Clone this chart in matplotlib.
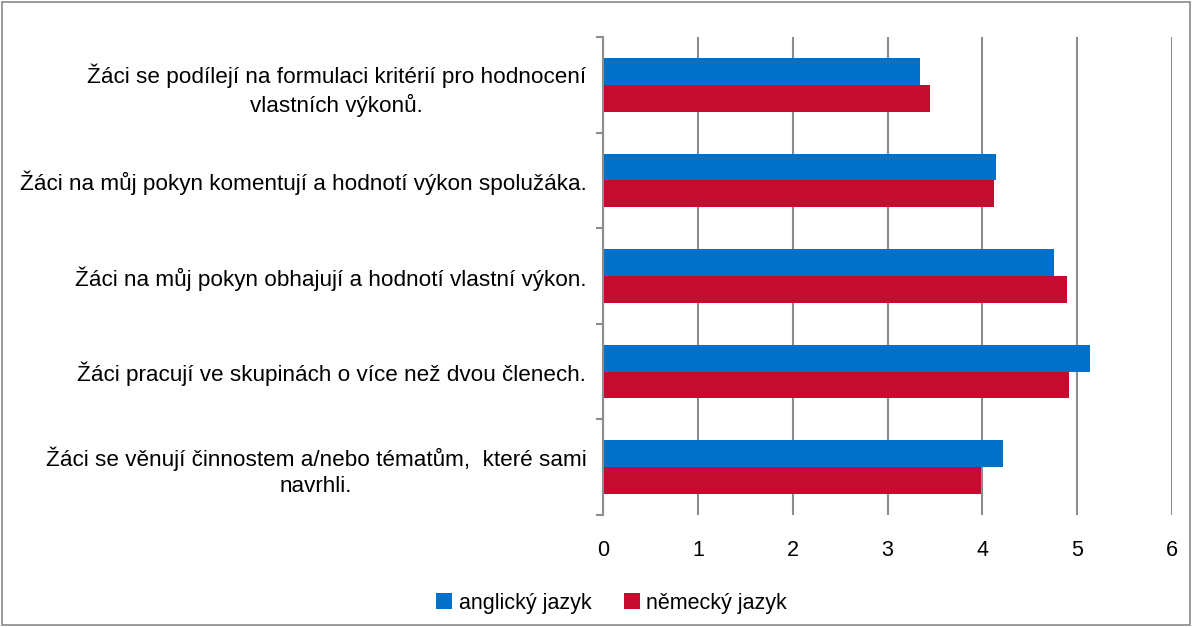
#!/usr/bin/env python3
"""Horizontal grouped bar chart: English vs German teachers' answers."""
import matplotlib
matplotlib.use("Agg")
import matplotlib.pyplot as plt
import numpy as np
from matplotlib.patches import Rectangle

categories = [
    "Žáci se podílejí na formulaci kritérií pro hodnocení\nvlastních výkonů.",
    "Žáci na můj pokyn komentují a hodnotí výkon spolužáka.",
    "Žáci na můj pokyn obhajují a hodnotí vlastní výkon.",
    "Žáci pracují ve skupinách o více než dvou členech.",
    "Žáci se věnují činnostem a/nebo tématům,  které sami\nnavrhli.",
]
anglicky = [3.34, 4.14, 4.76, 5.14, 4.22]
nemecky = [3.45, 4.12, 4.89, 4.91, 3.99]
series_names = ["anglický jazyk", "německý jazyk"]
xticks = [0, 1, 2, 3, 4, 5, 6]

BLUE = "#0070C8"
RED = "#C50C30"
GRID = "#8C8C8C"
FS = 15.5

plt.rcParams["font.family"] = ["Liberation Sans", "DejaVu Sans"]

fig = plt.figure(figsize=(11.92, 6.27), dpi=100)
ax = fig.add_axes([0.5059, 0.1786, 0.4773, 0.7624])

y = np.arange(len(categories))
h = 0.28
ax.barh(y - h / 2, anglicky, h, color=BLUE, label=series_names[0])
ax.barh(y + h / 2, nemecky, h, color=RED, label=series_names[1])

ax.set_xlim(0, 6)
ax.set_ylim(len(categories) - 0.5, -0.5)
ax.set_xticks(xticks)
ax.set_xticklabels([str(t) for t in xticks], fontsize=FS)
ax.tick_params(axis="x", length=0, pad=18)
ax.grid(axis="x", color=GRID, linewidth=1.5)
ax.set_axisbelow(True)

# category boundaries get the tick marks, centres get the labels
ax.set_yticks(np.arange(len(categories) + 1) - 0.5)
ax.set_yticklabels([])
ax.tick_params(axis="y", which="major", length=5, color=GRID, width=1.5)
ax.set_yticks(y, minor=True)
ax.set_yticklabels(categories, minor=True, fontsize=16.2, multialignment="center",
                   linespacing=1.3)
ax.tick_params(axis="y", which="minor", length=0, pad=12)

for s in ["top", "right", "bottom"]:
    ax.spines[s].set_visible(False)
ax.spines["left"].set_color(GRID)
ax.spines["left"].set_linewidth(1.5)

fig.legend(loc="center", bbox_to_anchor=(0.513, 0.038), ncol=2,
           frameon=False, fontsize=FS, handlelength=0.75, handleheight=0.75,
           handletextpad=0.3, columnspacing=1.5)

fig.patches.append(Rectangle((0.002, 0.003), 0.996, 0.994, transform=fig.transFigure,
                             fill=False, edgecolor="#8A8A8A", linewidth=1.2))

fig.savefig("out.png", dpi=100)
